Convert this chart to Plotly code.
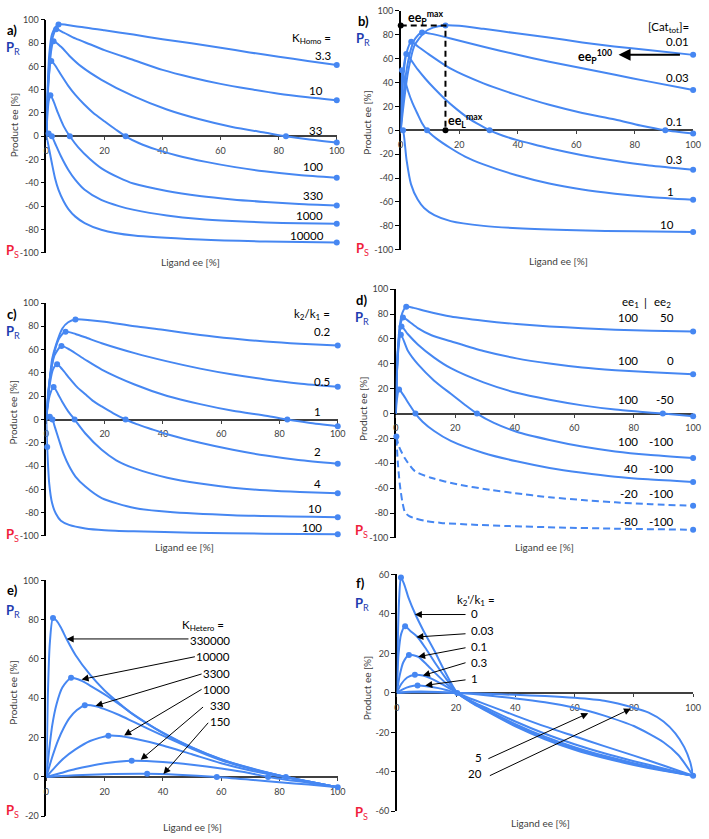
import plotly.graph_objects as go

W, H = 709, 839
BLUE = "#4687F2"
FONT = "Lato, 'Open Sans', sans-serif"

# ---------------- data ----------------
X_TICKS = [0, 20, 40, 60, 80, 100]
Y_TICKS_ABCD = [-100, -80, -60, -40, -20, 0, 20, 40, 60, 80, 100]
Y_TICKS_E = [-20, 0, 20, 40, 60, 80, 100]
Y_TICKS_F = [-60, -40, -20, 0, 20, 40, 60]

# a) K_Homo
A_LABELS = ["3.3", "10", "33", "100", "330", "1000", "10000"]
A_K3_3 = [(0,0),(0.3,30),(1,70),(2,88),(4.2,96),(10,94.5),(20,91),(30,87.3),(40,83.3),(50,79.8),(60,76),(70,72),(80,68.3),(90,64.7),(100,61.2)]
A_K10 = [(0,0),(0.4,35),(1,62),(2,83),(3.4,91.8),(6,89),(10,84),(15,79),(20,74),(30,65.5),(40,57),(50,50.5),(60,45),(70,40.5),(80,36.5),(90,33.5),(100,31)]
A_K33 = [(0,0),(0.4,30),(1,55),(1.7,74),(2.5,81.6),(5,77),(8,69),(12,60),(19,48.5),(30,34.4),(41.5,23),(52.8,14.6),(64,8),(75.5,3),(82.5,0),(90,-2.6),(100,-5.4)]
A_K100 = [(0,0),(0.3,25),(0.8,50),(1.7,64.6),(3,61),(5,53),(7.5,43.5),(10,35.5),(13,27.5),(16,20.5),(20,12.9),(24,5.6),(27.3,0),(32,-6),(38,-11.5),(45,-16.5),(55,-22),(65,-26.5),(75,-30),(87,-33.2),(100,-35.6)]
A_K330 = [(0,0),(0.3,15),(0.8,30),(1.4,35.2),(2.5,30),(4,20),(6,8.5),(8.1,0),(11,-9.5),(15,-19.5),(19,-27.5),(25,-35.5),(30,-40.6),(41.5,-47),(52.8,-51.3),(64,-54.2),(75.5,-56.4),(87,-58.2),(100,-59.5)]
A_K1000 = [(0,0),(0.8,2.4),(1.9,0),(3,-6),(5,-17),(7.6,-29),(10,-37.5),(13.2,-46),(18.9,-54.7),(25,-60),(30.2,-63.2),(41.5,-68),(52.8,-71.1),(64,-72.8),(75.5,-74),(87,-74.7),(100,-75.1)]
A_K10000 = [(0,0),(0.5,-5),(1.9,-23),(3,-36),(4.2,-46),(6,-56),(7.6,-62.5),(10,-69),(13.2,-74.5),(18.9,-80.2),(30.2,-85.3),(52.8,-88.7),(75.5,-90.4),(100,-91.2)]
A_CURVES = [A_K3_3, A_K10, A_K33, A_K100, A_K330, A_K1000, A_K10000]
A_DOTS = [[4, -1], [4, -1], [4, 14, -1], [3, 12, -1], [3, 7, -1], [1, 2, -1], [-1]]

# b) [Cat_tot]
B_LABELS = ["0.01", "0.03", "0.1", "0.3", "1", "10"]
B_C001 = [(0,0),(1,22),(2.5,49),(4.7,71),(8.1,82),(11,86),(15.3,87.9),(20,87.5),(28.3,85),(39.6,81.3),(50,78),(62.1,73.6),(73,70.3),(84.6,67.3),(100,63.2)]
B_C003 = [(0,0),(0.8,25),(1.9,49),(3.5,68),(5,77),(7.3,81.9),(10,81),(17.1,77),(28.3,70),(39.6,63.5),(50.8,57.5),(62.1,52),(73.3,46.5),(84.6,41),(100,33.8)]
B_C01 = [(0,0),(0.4,25),(1,48),(2,65),(3.6,74.2),(6,70),(10,63),(17.1,51.6),(28.3,39.3),(39.6,29.7),(50.8,21.4),(62.1,14.6),(73.3,9.1),(82,4),(90.5,0),(100,-2.7)]
B_C03 = [(0,0),(0.3,25),(0.8,48),(1.9,64),(3.5,59),(5.8,51),(8.5,43),(11.5,35),(15,26.5),(19,18),(23,10.5),(27,4.5),(30.4,0),(35,-4.5),(39.6,-8),(45,-11.5),(50.8,-15),(62.1,-20.8),(73.3,-25.5),(85,-29.5),(100,-33)]
B_C1 = [(0,0),(0.2,35),(0.45,50.3),(1.2,44),(2.5,33),(4,23),(5.8,13.5),(7.3,6),(9,0),(12,-6.5),(17.1,-15),(22,-22),(28.3,-28.5),(39.6,-37.6),(50.8,-44.5),(62.1,-49.5),(73.3,-53),(85,-55.8),(100,-58.2)]
B_C10 = [(0,0),(0.4,1),(0.8,0),(2,-25),(3.5,-45),(5.8,-58),(8,-65),(11.5,-71),(17.1,-76),(28.3,-80),(40,-82),(60,-83.7),(80,-84.6),(100,-85.2)]
B_CURVES = [B_C001, B_C003, B_C01, B_C03, B_C1, B_C10]
B_DOTS = [[6, -1], [5, -1], [4, 14, -1], [3, 12, -1], [2, 8, -1], [2, -1]]

# c) k2/k1
C_LABELS = ["0.2", "0.5", "1", "2", "4", "10", "100"]
C_R02 = [(0,0),(1,30),(2,52),(3.3,64),(5.5,78.2),(7.5,83.5),(10,85.9),(15,85.3),(20,84),(30.3,80),(40,77),(52.8,72.6),(64,69.5),(75.3,66.9),(87,65),(100,63.5)]
C_R05 = [(0,0),(0.8,25),(1.8,45),(3,60),(4.5,70),(6.6,75.4),(10,73.5),(14,70),(19,65.5),(30.3,57),(41.5,49.9),(52.8,43.7),(64,38.6),(75.3,34.4),(86.5,31),(100,28.2)]
C_R1 = [(0,0),(0.6,22),(1.5,40),(2.8,55),(5.2,63.2),(8,60),(13.4,51.3),(19,42.9),(30.3,30.1),(41.5,20.2),(52.8,13.2),(64,7.5),(75.3,3.3),(82.7,0),(90,-2.8),(100,-5.8)]
C_R2 = [(0,0),(0.5,17),(1.3,32),(2.3,43),(3.7,47.4),(5.5,43),(7.8,35.8),(10.5,28),(13.4,21.6),(16,16),(19,11.2),(23,5.3),(27.2,0),(31,-4),(35.9,-8.1),(41.5,-12.6),(52.8,-20),(64,-26),(75.3,-31),(86.5,-34.8),(100,-38)]
C_R4 = [(0,0),(0.4,10),(1.2,21),(2.5,27.9),(4,22),(5.5,15),(7.5,7),(9.7,0),(13.4,-12),(19,-26),(24,-35),(30.3,-42),(41.5,-50),(52.8,-55),(64,-58.5),(75.3,-60.8),(87,-62.3),(100,-63.3)]
C_R10 = [(0,0),(1.2,2.4),(2.1,0),(3,-7),(4.4,-18),(6,-30),(7.8,-40),(10,-49),(13.4,-57.6),(19,-67.5),(30.3,-76),(41.5,-79.3),(64,-82.2),(100,-83.9)]
C_R100 = [(0,0),(0.3,-23.6),(1,-55),(2,-72),(3.3,-81),(5,-87),(7.8,-90.5),(13.4,-93.5),(20,-95),(30,-96),(50,-97.2),(75,-98),(100,-98.6)]
C_CURVES = [C_R02, C_R05, C_R1, C_R2, C_R4, C_R10, C_R100]
C_DOTS = [[6, -1], [5, -1], [4, 13, -1], [4, 12, -1], [3, 7, -1], [1, 2, -1], [1, -1]]

# d) ee1 | ee2
D_EE1 = ["100", "100", "100", "100", "40", "-20", "-80"]
D_EE2 = ["50", "0", "-50", "-100", "-100", "-100", "-100"]
D_1 = [(0,0),(0.5,40),(1.2,68),(2.2,81),(3.5,86),(6,85),(10,82.5),(18.5,78),(29.5,74.6),(40.6,72),(51.7,70.1),(62.7,68.7),(73.8,67.5),(86,66.7),(100,66.1)]
D_2 = [(0,0),(0.4,35),(1,60),(1.6,72),(2.4,77.2),(4.5,74),(7.4,68.8),(12,63),(18.5,58.2),(29.5,50.3),(40.6,44.4),(51.7,40.2),(62.7,37),(73.8,34.9),(86,33.2),(100,31.7)]
D_3 = [(0,0),(0.3,30),(0.8,55),(1.9,70.1),(4,64),(7.4,55.6),(12.9,45),(18.5,36.5),(29.5,25.1),(40.6,16.7),(51.7,11.1),(62.7,6.6),(73.8,3.2),(82,1.5),(89.8,0),(100,-2.1)]
D_4 = [(0,0),(0.3,28),(0.8,50),(1.7,63.5),(4.1,50.3),(7.4,39.7),(12.9,26.5),(18.5,15.9),(23,7.5),(27.3,0),(33,-7.5),(40.6,-14.6),(51.7,-21.2),(62.7,-26.5),(73.8,-30.4),(84.8,-33.1),(100,-35.7)]
D_5 = [(0,0),(0.4,12),(1.1,19.3),(2.5,15),(4.5,7.5),(6.6,0),(9,-6.5),(12.9,-14),(18.5,-22),(29.5,-31.7),(40.6,-38.4),(51.7,-43.7),(62.7,-47.6),(73.8,-50.8),(84.8,-52.9),(100,-55)]
D_6 = [(0.2,-18.5),(1,-26),(3,-35.7),(6.4,-46.3),(11.8,-51.6),(20.8,-56.9),(31.8,-61.4),(40,-64),(51.7,-67.3),(62.7,-69.5),(73.8,-71.4),(86,-72.9),(100,-74.1)]
D_7 = [(0.2,-20),(0.7,-40),(1.4,-58),(2.2,-71),(3.1,-79.4),(4.5,-82.5),(6.4,-84.2),(10,-86.3),(15.2,-87.9),(26.3,-89.4),(38.4,-90.5),(55,-91.6),(75,-92.6),(100,-93.4)]
D_CURVES = [D_1, D_2, D_3, D_4, D_5, D_6, D_7]
D_DOTS = [[4, -1], [4, -1], [3, 14, -1], [3, 9, -1], [2, 5, -1], [0, -1], [-1]]
D_DASHED = [False, False, False, False, False, True, True]

# e) K_Hetero
E_LABELS = ["330000", "10000", "3300", "1000", "330", "150"]
E_330000 = [(0,0),(0.5,40),(1.2,68),(2.3,80.9),(3.5,79.5),(5,76),(7,70),(10,62),(15,52),(20,44),(25,37.5),(30,31.5),(40,22.5),(50,15),(60,9),(70,4.5),(82.2,0),(90,-2.3),(100,-5.2)]
E_10000 = [(0,0),(1,14),(2,26),(3.5,37),(5.5,45.5),(8.5,50.4),(12,49),(15,46.5),(20,42),(25,37),(30,31.7),(40,22.3),(50,14.9),(60,8.9),(70,4.4),(82.2,0),(90,-2.3),(100,-5.2)]
E_3300 = [(0,0),(2,10),(4,18.5),(6,25),(8,30),(10.5,34),(13.2,36.5),(17,36),(20,34.5),(25,31.5),(30,28),(40,21),(50,14.3),(60,8.5),(70,4.1),(82.2,0),(90,-2.3),(100,-5.2)]
E_1000 = [(0,0),(3,5),(6,9.5),(10,14),(15,18.3),(21.3,21),(25,20.8),(30,19.5),(40,16),(50,11.5),(60,7),(70,3.3),(80,0.3),(90,-2.5),(100,-5.2)]
E_330 = [(0,0),(5,2),(10,4),(15,5.6),(20,6.9),(29.3,8.2),(40,7.6),(50,6.2),(60,4.3),(70,1.9),(76.1,0),(90,-3),(100,-5.2)]
E_150 = [(0,0),(10,0.9),(20,1.4),(34.6,1.6),(45,1.1),(58.5,0),(70,-1.4),(80,-2.7),(90,-3.9),(100,-5.2)]
E_CURVES = [E_330000, E_10000, E_3300, E_1000, E_330, E_150]
E_DOTS = [[3, 16, -1], [5], [6], [5], [5, 10], [3, 5]]

# f) k2'/k1
F_LABELS_TOP = ["0", "0.03", "0.1", "0.3", "1"]
F_LABELS_BOT = ["5", "20"]
F_0 = [(0,0),(0.4,30),(0.8,48),(1.4,58.5),(2.5,55),(4,48),(6.3,39.7),(9,31.5),(12.7,21.3),(16,11.5),(20.4,0),(25,-4.8),(30,-9),(40,-17),(50,-23.5),(60,-28.8),(70,-33),(80,-36.5),(90,-39.5),(100,-42)]
F_003 = [(0,0),(0.6,20),(1.5,30),(2.8,33.8),(4.5,31.5),(7,28.3),(10,22),(13,15),(16.5,7.5),(20.4,0),(25,-4.6),(30,-8.7),(40,-16.5),(50,-23),(60,-28.2),(70,-32.5),(80,-36.1),(90,-39.2),(100,-42)]
F_01 = [(0,0),(1,9),(2.2,15.5),(4.1,19.2),(7.2,18.3),(10,14.5),(13,10),(16.5,5),(20.4,0),(25,-4.4),(30,-8.3),(40,-15.8),(50,-22.2),(60,-27.5),(70,-31.9),(80,-35.6),(90,-38.9),(100,-42)]
F_03 = [(0,0),(1.5,4.5),(3.5,7.8),(6.1,9.2),(8.8,8.8),(12,7),(16,3.8),(20.4,0),(25,-4),(30,-7.5),(40,-14.5),(50,-20.7),(60,-26),(70,-30.6),(80,-34.6),(90,-38.3),(100,-42)]
F_1 = [(0,0),(2,1.8),(4.5,3.2),(7,3.7),(10,3.4),(14,2.4),(17,1.3),(20.4,0),(25,-3),(30,-5.8),(40,-11.5),(50,-17),(60,-22),(70,-27),(80,-31.8),(90,-36.8),(100,-42)]
F_5 = [(0,0),(3,0.5),(8,0.7),(14,0.5),(20.4,0),(25,-0.5),(30,-1.2),(40,-2.8),(50,-4.8),(60,-7.5),(65,-9.3),(70,-11.5),(80,-16.8),(90,-25),(95,-31.5),(100,-42)]
F_20 = [(0,0),(5,0.3),(12,0.3),(20.4,0),(30,-0.5),(40,-1),(50,-1.6),(60,-2.5),(70,-4),(80,-7.5),(85,-10),(90,-14.5),(94,-20.5),(97,-27.5),(99,-35),(100,-42)]
F_CURVES = [F_0, F_003, F_01, F_03, F_1, F_5, F_20]
F_DOTS = [[3, 10, -1], [3], [3], [3], [3], [], []]

# ---------------- layout geometry (pixels) ----------------
# letter, x0, x1, ytop, ybottom, ymin, ymax, yticks
PANELS = [
    ("a", 44, 339, 14, 250, -100, 100, Y_TICKS_ABCD),
    ("b", 404, 701, 5, 247, -100, 100, Y_TICKS_ABCD),
    ("c", 44, 340, 301, 537, -100, 100, Y_TICKS_ABCD),
    ("d", 399, 701, 287, 539, -100, 100, Y_TICKS_ABCD),
    ("e", 44, 340, 582, 821, -20, 100, Y_TICKS_E),
    ("f", 400, 701, 576, 816, -60, 60, Y_TICKS_F),
]

fig = go.Figure()


def ax_names(i):
    return ("x" if i == 1 else f"x{i}", "y" if i == 1 else f"y{i}")


def add_curve(i, pts, dots, dash=None):
    xr, yr = ax_names(i)
    xs = [p[0] for p in pts]
    ys = [p[1] for p in pts]
    fig.add_trace(go.Scatter(
        x=xs, y=ys, mode="lines", xaxis=xr, yaxis=yr, cliponaxis=False,
        line=dict(color=BLUE, width=2, shape="spline", smoothing=0.7,
                  dash=dash if dash else "solid"),
        hoverinfo="skip", showlegend=False))
    if dots:
        fig.add_trace(go.Scatter(
            x=[xs[k] for k in dots], y=[ys[k] for k in dots], mode="markers",
            xaxis=xr, yaxis=yr, cliponaxis=False,
            marker=dict(color=BLUE, size=6), hoverinfo="skip", showlegend=False))


for c, d in zip(A_CURVES, A_DOTS):
    add_curve(1, c, d)
for c, d in zip(B_CURVES, B_DOTS):
    add_curve(2, c, d)
for c, d in zip(C_CURVES, C_DOTS):
    add_curve(3, c, d)
for c, d, dsh in zip(D_CURVES, D_DOTS, D_DASHED):
    add_curve(4, c, d, "7px,4px" if dsh else None)
for c, d in zip(E_CURVES, E_DOTS):
    add_curve(5, c, d)
for c, d in zip(F_CURVES, F_DOTS):
    add_curve(6, c, d)

# panel b: dashed guide lines to the maximum of the 0.01 curve
pk = max(B_C001, key=lambda p: p[1])
fig.add_trace(go.Scatter(x=[0, pk[0], pk[0]], y=[pk[1], pk[1], 0], mode="lines",
                         xaxis="x2", yaxis="y2", cliponaxis=False,
                         line=dict(color="black", width=2, dash="6px,4px"),
                         hoverinfo="skip", showlegend=False))
fig.add_trace(go.Scatter(x=[0, pk[0]], y=[pk[1], 0], mode="markers",
                         xaxis="x2", yaxis="y2", cliponaxis=False,
                         marker=dict(color="black", size=6),
                         hoverinfo="skip", showlegend=False))

layout = dict(width=W, height=H, margin=dict(l=0, r=0, t=0, b=0),
              paper_bgcolor="white", plot_bgcolor="white", showlegend=False,
              font=dict(family=FONT, color="black"))
annotations = []

for i, (let, x0, x1, yt, yb, ymin, ymax, yticks) in enumerate(PANELS, start=1):
    ybot = 1 - yb / H
    ytop = 1 - yt / H
    zero_pos = ybot + (0 - ymin) / (ymax - ymin) * (ytop - ybot)
    sx = "" if i == 1 else str(i)
    layout["xaxis" + sx] = dict(
        domain=[x0 / W, x1 / W], range=[0, 100], anchor="free", position=zero_pos,
        showline=True, linecolor="#404040", linewidth=2, layer="below traces",
        ticks="outside", ticklen=3, tickcolor="#404040", tickwidth=1,
        ticklabelstandoff=3,
        tickvals=X_TICKS, ticktext=[str(v) for v in X_TICKS],
        tickfont=dict(size=9, color="#404040", family=FONT),
        showgrid=False, zeroline=False)
    layout["yaxis" + sx] = dict(
        domain=[ybot, ytop], range=[ymin, ymax], anchor="x" + sx,
        showline=True, linecolor="black", linewidth=1.5, layer="below traces",
        ticks="outside", ticklen=4, tickcolor="black", tickwidth=1,
        tickvals=yticks, ticktext=[str(v) for v in yticks],
        tickfont=dict(size=9, color="#404040", family=FONT),
        showgrid=False, zeroline=False)

# ---- paper-positioned texts: panel letters, P_R / P_S, axis titles ----
PAPER_TEXT = [("a)", 2, 24), ("b)", 359, 15), ("c)", 2, 312), ("d)", 357, 298), ("e)", 2, 592), ("f)", 357, 585)]
for t, xp, yp in PAPER_TEXT:
    annotations.append(dict(text=f"<b>{t}</b>", x=xp / W, y=1 - yp / H, xref="paper", yref="paper",
                            xanchor="left", yanchor="middle", showarrow=False,
                            font=dict(size=13, color="black", family=FONT)))

PR_Y = [43, 33, 330, 316, 613, 606]
PS_Y = [248, 246, 536, 532, 816, 818]
PX_LEFT = [1, 357, 1, 356, 1, 356]
for xp, yr_, ys_ in zip(PX_LEFT, PR_Y, PS_Y):
    annotations.append(dict(text="<b>P</b><sub>R</sub>", x=xp / W, y=1 - yr_ / H, xref="paper", yref="paper",
                            xanchor="left", yanchor="middle", showarrow=False,
                            font=dict(size=13, color="#1F3BB0", family=FONT)))
    annotations.append(dict(text="<b>P</b><sub>S</sub>", x=xp / W, y=1 - ys_ / H, xref="paper", yref="paper",
                            xanchor="left", yanchor="middle", showarrow=False,
                            font=dict(size=13, color="#F0203A", family=FONT)))

YT_POS = [(12, 121), (370, 118), (10, 412), (365, 408), (10, 696), (370, 691)]
XT_POS = [(190, 259), (564, 258), (184, 548), (550, 548), (192, 832), (546, 828)]
for (xp, yp) in YT_POS:
    annotations.append(dict(text="Product ee [%]", x=xp / W, y=1 - yp / H, xref="paper", yref="paper",
                            textangle=-90, xanchor="center", yanchor="middle", showarrow=False,
                            font=dict(size=10, color="#404040", family=FONT)))
for (xp, yp) in XT_POS:
    annotations.append(dict(text="Ligand ee [%]", x=xp / W, y=1 - yp / H, xref="paper", yref="paper",
                            xanchor="center", yanchor="middle", showarrow=False,
                            font=dict(size=10, color="#404040", family=FONT)))


def lab(i, text, x, y, anchor="right", size=11.5, bold=False):
    xr, yr = ax_names(i)
    if bold:
        text = f"<b>{text}</b>"
    annotations.append(dict(text=text, x=x, y=y, xref=xr, yref=yr, xanchor=anchor, yanchor="middle",
                            showarrow=False, font=dict(size=size, color="black", family=FONT)))


def arrow(i, tail, tip, width=1, size=1.4):
    xr, yr = ax_names(i)
    annotations.append(dict(text="", x=tip[0], y=tip[1], ax=tail[0], ay=tail[1], xref=xr, yref=yr,
                            axref=xr, ayref=yr, showarrow=True, arrowhead=2, arrowsize=size,
                            arrowwidth=width, arrowcolor="black", standoff=0, startstandoff=0))


# a) labels
lab(1, "K<sub>Homo</sub> =", 98.6, 83.9)
for t, x, y in zip(A_LABELS, [98.6, 95.8, 95.8, 95.8, 95.8, 95.8, 96.4], [69.7, 39.2, 4.7, -25.6, -51, -68, -85]):
    lab(1, t, x, y)

# b) labels
lab(2, "[Cat<sub>tot</sub>]=", 99.2, 86)
for t, x, y in zip(B_LABELS, [99.2, 99.2, 96.9, 96.9, 94.2, 94.2], [74.2, 44, 7.7, -24.5, -51.4, -78.8]):
    lab(2, t, x, y)
lab(2, "ee<sub>P</sub><sup>max</sup>", 1.9, 94.5, anchor="left", size=12.5, bold=True)
lab(2, "ee<sub>L</sub><sup>max</sup>", 15.6, 8.5, anchor="left", size=12.5, bold=True)
lab(2, "ee<sub>P</sub><sup>100</sup>", 73.0, 62.0, anchor="right", size=12.5, bold=True)
arrow(2, (96.0, B_C001[-1][1]), (74.5, B_C001[-1][1]), width=2, size=1.2)

# c) labels
lab(3, "k<sub>2</sub>/k<sub>1</sub> =", 98.1, 90.4)
for t, x, y in zip(C_LABELS, [98.1, 98.1, 95.1, 95.1, 95.1, 95.3, 95.3], [76, 33, 6.6, -27.9, -55.3, -76.8, -92.9]):
    lab(3, t, x, y)

# d) labels
lab(4, "ee<sub>1</sub>", 78.8, 89.4, anchor="center")
lab(4, "|", 84.1, 89.4, anchor="center")
lab(4, "ee<sub>2</sub>", 89.8, 89.4, anchor="center")
for a1, a2, y in zip(D_EE1, D_EE2, [77.2, 42.9, 11.1, -22.5, -44.4, -64, -86.5]):
    lab(4, a1, 82.1, y)
    lab(4, a2, 94.2, y)

# e) labels + arrows
lab(5, "K<sub>Hetero</sub> =", 61.7, 76.9)
for t, y in zip(E_LABELS, [69.6, 61.2, 52.5, 44.5, 36.2, 28.3]):
    lab(5, t, 63.6, y)
E_ARROWS = [((49.3, 70.2), (7.0, 70.2)), ((51.5, 61.3), (12.1, 49.6)), ((53.8, 52.6), (16.9, 36.2)),
            ((53.8, 45.0), (26.7, 21.1)), ((54.3, 36.2), (32.4, 8.7)), ((56.0, 28.3), (40.2, 1.5))]
for tail, tip in E_ARROWS:
    arrow(5, tail, tip)

# f) labels + arrows
lab(6, "k<sub>2</sub>'/k<sub>1</sub> =", 33.8, 46.7)
for t, y in zip(F_LABELS_TOP, [40, 31.7, 23.4, 15.5, 7.2]):
    lab(6, t, 24.5, y, anchor="left")
for t, y in zip(F_LABELS_BOT, [-32.7, -41]):
    lab(6, t, 29.3, y)
F_ARROWS = [((23.7, 39.7), (6.1, 39.7)), ((23.7, 30.0), (6.6, 28.3)), ((23.7, 23.0), (7.2, 18.3)),
            ((23.7, 15.5), (8.8, 8.8)), ((23.7, 6.7), (9.6, 3.8)),
            ((30.4, -33.7), (64.6, -10.3)), ((30.9, -42.3), (79.0, -8.0))]
for tail, tip in F_ARROWS:
    arrow(6, tail, tip)

layout["annotations"] = annotations
fig.update_layout(**layout)
fig.write_html("out.html", config={"displayModeBar": False},
               post_script="document.body.style.margin='0';document.body.style.overflow='hidden';")
